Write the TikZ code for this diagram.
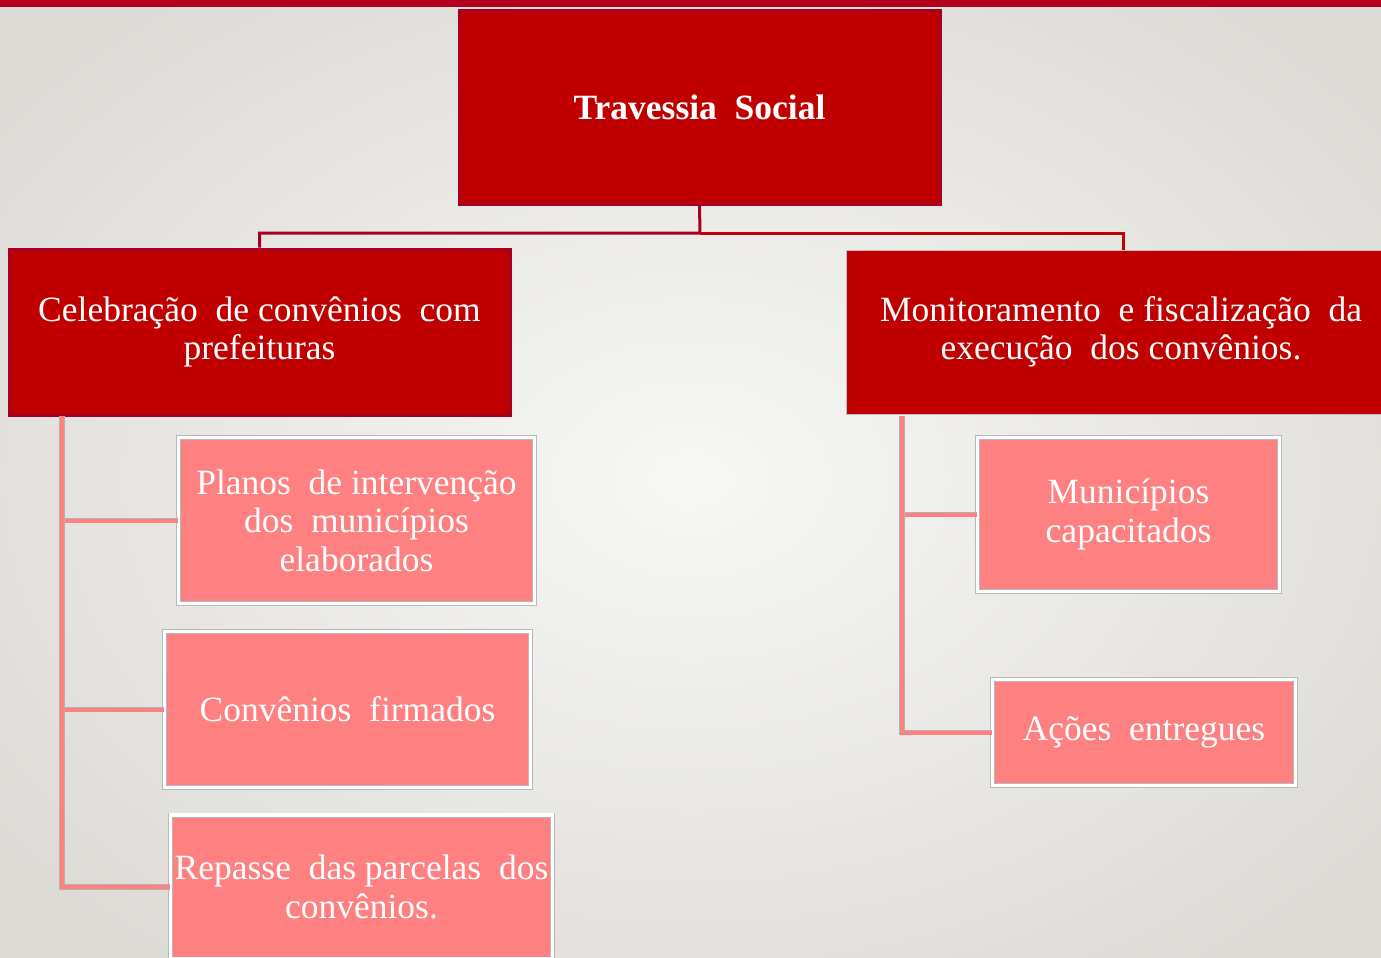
\documentclass[tikz,border=0pt]{standalone}
\usepackage{fontspec}
\setmainfont{Liberation Serif}
\definecolor{bgin}{RGB}{247,247,246}
\definecolor{bgout}{RGB}{220,218,213}
\definecolor{topbar}{RGB}{178,0,30}
\definecolor{boxred}{RGB}{192,0,0}
\definecolor{boxedge}{RGB}{165,0,33}
\definecolor{subpink}{RGB}{255,128,128}
\tikzset{
  main/.style={fill=boxred, draw=boxedge, line width=3pt, text=white, align=center,
    inner sep=0pt, font=\fontsize{35.5}{38.5}\selectfont},
  sub/.style={fill=subpink, draw=black!28, double=white, double distance=3.8pt, line width=0.6pt,
    text=white, align=center, inner sep=0pt, font=\fontsize{35.5}{38.5}\selectfont},
  topline/.style={line width=3pt},
  spine/.style={draw=subpink, line width=4pt, preaction={draw=black!30, line width=5.4pt}},
}
\begin{document}
\begin{tikzpicture}[x=1pt,y=-1pt]
\useasboundingbox (0,0) rectangle (1381,958);
\begin{scope}
\clip (0,0) rectangle (1381,958);
\shade[inner color=bgin, outer color=bgout] (-200,-150) rectangle (1581,1108);
\fill[topbar] (0,0) rectangle (1381,7);

% main boxes
\node[main, minimum width=481pt, minimum height=193pt, font=\fontsize{35.5}{38.5}\selectfont\bfseries]
  (top) at (699.5,107.5) {Travessia\ \ Social};
\node[main, minimum width=501pt, minimum height=166pt] (lft) at (259.5,332)
  {Celebração\ \ de convênios\ \ com\\prefeituras};
\node[main, draw=black!25, line width=0.6pt, minimum width=550pt, minimum height=164pt] (rgt) at (1121,332)
  {Monitoramento\ \ e fiscalização\ \ da\\execução\ \ dos convênios.};

% connectors from top
\coordinate (hub) at (700,233);
\draw[topline, boxedge] (top.south) -- (hub) -| (lft.north);
\draw[topline, boxred] (hub) -| ([xshift=2pt]rgt.north);

% left sub boxes
\node[sub, minimum width=356pt, minimum height=166pt] (plan) at (356.5,520.5)
  {Planos\ \ de intervenção\\dos\ \ municípios\\elaborados};
\node[sub, minimum width=366pt, minimum height=156pt] (conv) at (347.5,709.5)
  {Convênios\ \ firmados};
\node[sub, minimum width=382pt, minimum height=144pt] (rep) at (361.5,887)
  {Repasse\ \ das parcelas\ \ dos\\convênios.};

% right sub boxes
\node[sub, minimum width=302pt, minimum height=154pt] (mun) at (1128.5,514.5)
  {Municípios\\capacitados};
\node[sub, minimum width=303pt, minimum height=106pt] (acoes) at (1144,732.5)
  {Ações\ \ entregues};

% spines
\coordinate (ls) at (62,416);
\coordinate (rs) at (902,416);
\draw[spine] (ls) |- (plan.west);
\draw[spine] (ls) |- (conv.west);
\draw[spine] (ls) |- (rep.west);
\draw[spine] (rs) |- (mun.west);
\draw[spine] (rs) |- (acoes.west);
\end{scope}
\end{tikzpicture}
\end{document}
